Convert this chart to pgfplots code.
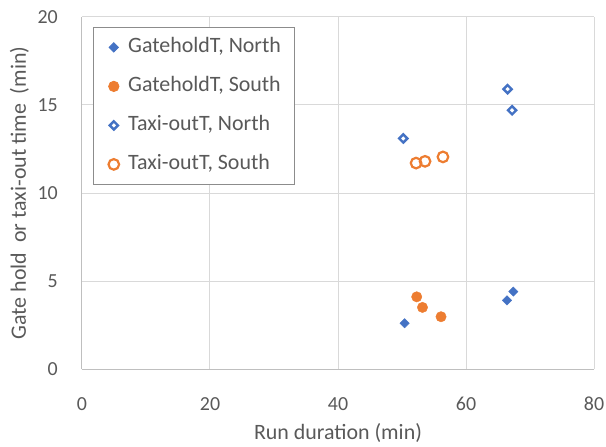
\documentclass[border=0pt]{standalone}
\usepackage{pgfplots}
\pgfplotsset{compat=1.18}
\usepackage{fontspec}
\setmainfont{Carlito}
\definecolor{cblue}{HTML}{4472C4}
\definecolor{corange}{HTML}{ED7D31}
\definecolor{ctext}{HTML}{595959}
\definecolor{cgrid}{HTML}{D9D9D9}
\definecolor{caxis}{HTML}{BFBFBF}
\definecolor{clegend}{HTML}{8C8C8C}
\begin{document}
\begin{tikzpicture}
\useasboundingbox (-82bp,-78bp) rectangle (524bp,369bp);
\begin{axis}[
  at={(0,0)}, anchor=south west,
  scale only axis, width=512bp, height=352bp,
  xmin=0, xmax=80, ymin=0, ymax=20,
  xtick={0,20,40,60,80}, ytick={0,5,10,15,20},
  grid=major, major grid style={draw=cgrid, line width=1bp},
  axis x line*=bottom, axis y line*=left,
  axis line style={draw=caxis, line width=1bp},
  major tick length=0pt,
  /pgf/number format/assume math mode=true,
  tick label style={font=\fontsize{20}{24}\selectfont, text=ctext, inner sep=0pt},
  xticklabel style={anchor=base, yshift=-41bp},
  yticklabel style={anchor=east, xshift=-24bp},
  xlabel={Run duration (min)},
  ylabel={Gate hold\ \ or taxi-out time\ \ (min)},
  label style={font=\fontsize{22}{26}\selectfont, text=ctext, inner sep=0pt},
  xlabel style={at={(axis description cs:0.5,-0.1989)}, anchor=base},
  ylabel style={at={(axis description cs:-0.1094,0.5)}, anchor=base, rotate=0},
  legend cell align=left,
  legend image code/.code={\path (-7bp,0bp) (7bp,0bp); \draw[#1] plot coordinates {(0bp,0bp)};},
  legend style={at={(axis description cs:0.0215,0.9716)}, anchor=north west,
    draw=clegend, line width=0.8bp, fill=white,
    font=\fontsize{22}{26}\selectfont, text=ctext,
    inner xsep=13bp, inner ysep=10bp,
    row sep=19bp, column sep=7bp,
    nodes={inner sep=0pt, text height=15bp, text depth=5bp}},
]
\addplot[only marks, mark=square*, mark size=3.3bp, mark options={rotate=45, draw=cblue, fill=cblue}]
  coordinates {(50.4,2.6) (66.4,3.9) (67.4,4.4)};
\addlegendentry{GateholdT, North}
\addplot[only marks, mark=*, mark size=5.2bp, mark options={draw=corange, fill=corange}]
  coordinates {(52.3,4.1) (53.2,3.5) (56.1,2.97)};
\addlegendentry{GateholdT, South}
\addplot[only marks, mark=square*, mark size=2.9bp, mark options={rotate=45, draw=cblue, fill=white, line width=2.4bp}]
  coordinates {(66.5,15.9) (67.2,14.7) (50.2,13.1)};
\addlegendentry{Taxi-outT, North}
\addplot[only marks, mark=o, mark size=5.3bp, mark options={draw=corange, line width=2.2bp}]
  coordinates {(52.2,11.7) (53.6,11.8) (56.4,12.05)};
\addlegendentry{Taxi-outT, South}
\end{axis}
\end{tikzpicture}
\end{document}
